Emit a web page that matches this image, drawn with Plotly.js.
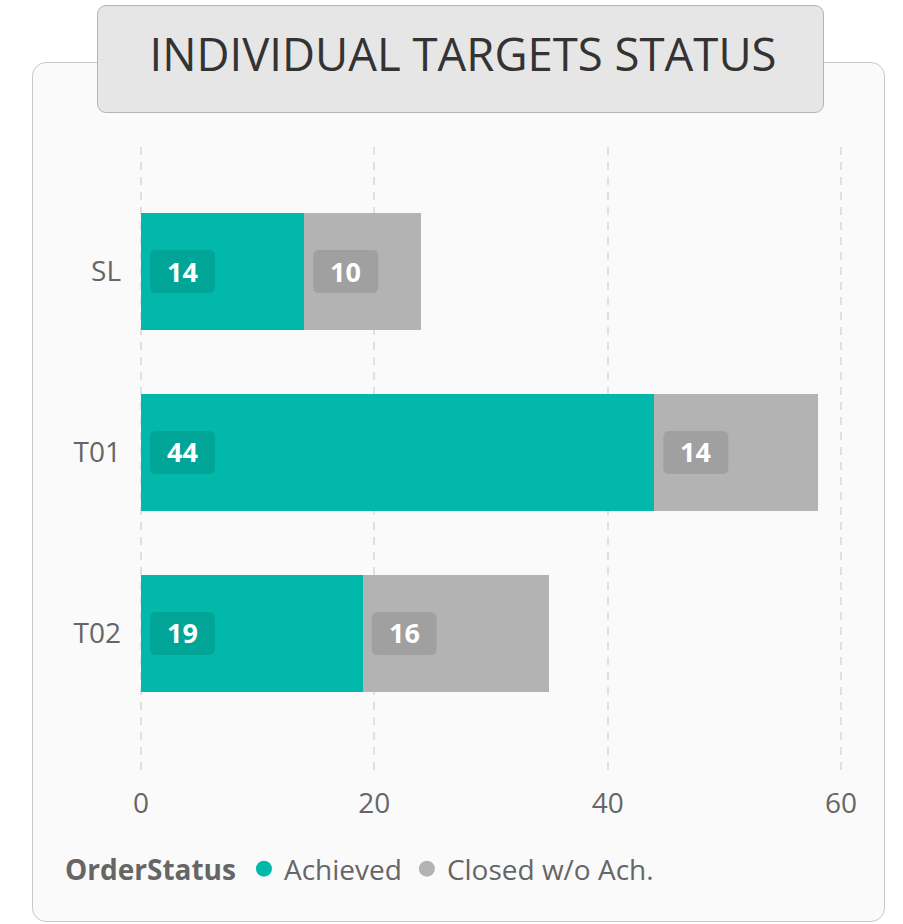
<!DOCTYPE html>
<html>
<head>
<meta charset="utf-8">
<script src="https://cdn.plot.ly/plotly-3.0.1.min.js"></script>
<style>
  html, body { margin: 0; padding: 0; background: #ffffff; }
  #wrap { position: relative; width: 903px; height: 924px; overflow: hidden; }
  #card { position: absolute; left: 32px; top: 62px; width: 851px; height: 858px;
          background: #fafafa; border: 1.5px solid #c8c8c8; border-radius: 14px; }
  #titlebox { position: absolute; left: 97px; top: 5px; width: 725px; height: 106px;
          background: #e6e6e6; border: 1.5px solid #b5b5b5; border-radius: 9px; }
  #chart { position: absolute; left: 0; top: 0; width: 903px; height: 924px; }
</style>
</head>
<body>
<div id="wrap">
  <div id="card"></div>
  <div id="titlebox"></div>
  <div id="chart"></div>
</div>
<script>
// ---- data ----
const categories = ["SL", "T01", "T02"];
const achieved = [14, 44, 19];
const closedNoAch = [10, 14, 16];
const seriesNames = ["Achieved", "Closed w/o Ach."];
const xTicks = [0, 20, 40, 60];
const chartTitle = "INDIVIDUAL TARGETS STATUS";
const legendTitle = "OrderStatus";

// ---- styles ----
const colors = ["#01B8AA", "#B3B3B3"];
const FONT = '"Segoe UI", "Open Sans", "Noto Sans", sans-serif';
const textGrey = "#666666";

const traces = [
  { type: "bar", orientation: "h", y: categories, x: achieved, name: seriesNames[0],
    marker: { color: colors[0] }, width: 0.646, showlegend: false, hoverinfo: "skip" },
  { type: "bar", orientation: "h", y: categories, x: closedNoAch, name: seriesNames[1],
    marker: { color: colors[1] }, width: 0.646, showlegend: false, hoverinfo: "skip" },
  // legend entries (circle markers)
  { type: "scatter", mode: "markers", x: [null], y: [null], name: seriesNames[0],
    marker: { color: colors[0], size: 16, symbol: "circle" }, hoverinfo: "skip" },
  { type: "scatter", mode: "markers", x: [null], y: [null], name: seriesNames[1],
    marker: { color: colors[1], size: 16, symbol: "circle" }, hoverinfo: "skip" }
];

// value labels with rounded dark boxes at the start of each segment
const shapes = [];
const annotations = [];
const r = 6, bx0 = 9, bx1 = 74, bh = 21.5;
const boxPath = `M ${bx0 + r},${-bh} L ${bx1 - r},${-bh} Q ${bx1},${-bh} ${bx1},${-bh + r} ` +
  `L ${bx1},${bh - r} Q ${bx1},${bh} ${bx1 - r},${bh} L ${bx0 + r},${bh} Q ${bx0},${bh} ${bx0},${bh - r} ` +
  `L ${bx0},${-bh + r} Q ${bx0},${-bh} ${bx0 + r},${-bh} Z`;
categories.forEach((c, i) => {
  const segs = [[0, achieved[i]], [achieved[i], closedNoAch[i]]];
  segs.forEach(([base, val]) => {
    shapes.push({ type: "path", xref: "x", yref: "y", xsizemode: "pixel", ysizemode: "pixel",
      xanchor: base, yanchor: i, path: boxPath,
      fillcolor: "rgba(0,0,0,0.1)", line: { width: 0 }, layer: "above" });
    annotations.push({ xref: "x", yref: "y", x: base, y: i, xanchor: "center", yanchor: "middle",
      xshift: (bx0 + bx1) / 2, yshift: 0.5, showarrow: false, text: "<b>" + val + "</b>",
      font: { family: FONT, size: 27, color: "#ffffff" } });
  });
});

const layout = {
  width: 903, height: 924,
  paper_bgcolor: "rgba(0,0,0,0)", plot_bgcolor: "rgba(0,0,0,0)",
  margin: { l: 139, r: 60, t: 147, b: 149, pad: 0 },
  barmode: "stack",
  font: { family: FONT, color: textGrey },
  title: { text: chartTitle, x: 463 / 903, xanchor: "center", xref: "container",
           y: 1 - 55 / 924, yanchor: "middle", yref: "container",
           font: { family: FONT, size: 45.5, weight: 400, color: "#333333" } },
  xaxis: { range: [-0.1714, 60.1714], tickvals: xTicks, showgrid: true, gridcolor: "#e0e0e0", gridwidth: 2,
           griddash: "8px,7px", zeroline: false, showline: false, ticks: "",
           ticklabelstandoff: 9, tickfont: { family: FONT, size: 28, color: textGrey }, fixedrange: true },
  yaxis: { type: "category", categoryorder: "array", categoryarray: categories,
           range: [2.782, -0.688], showgrid: false, zeroline: false, showline: false, ticks: "",
           ticklabelstandoff: 17, tickfont: { family: FONT, size: 28, color: textGrey }, fixedrange: true },
  showlegend: true,
  legend: { orientation: "h", xref: "container", yref: "container", x: 63 / 903, xanchor: "left",
            y: 1 - 869 / 924, yanchor: "middle", bgcolor: "rgba(0,0,0,0)",
            title: { text: "<b>" + legendTitle + "</b>", side: "left",
                     font: { family: FONT, size: 28, color: textGrey } },
            font: { family: FONT, size: 28, color: textGrey }, itemclick: false, traceorder: "normal" },
  shapes: shapes,
  annotations: annotations
};

Plotly.newPlot("chart", traces, layout, { staticPlot: true, displayModeBar: false });
</script>
</body>
</html>
